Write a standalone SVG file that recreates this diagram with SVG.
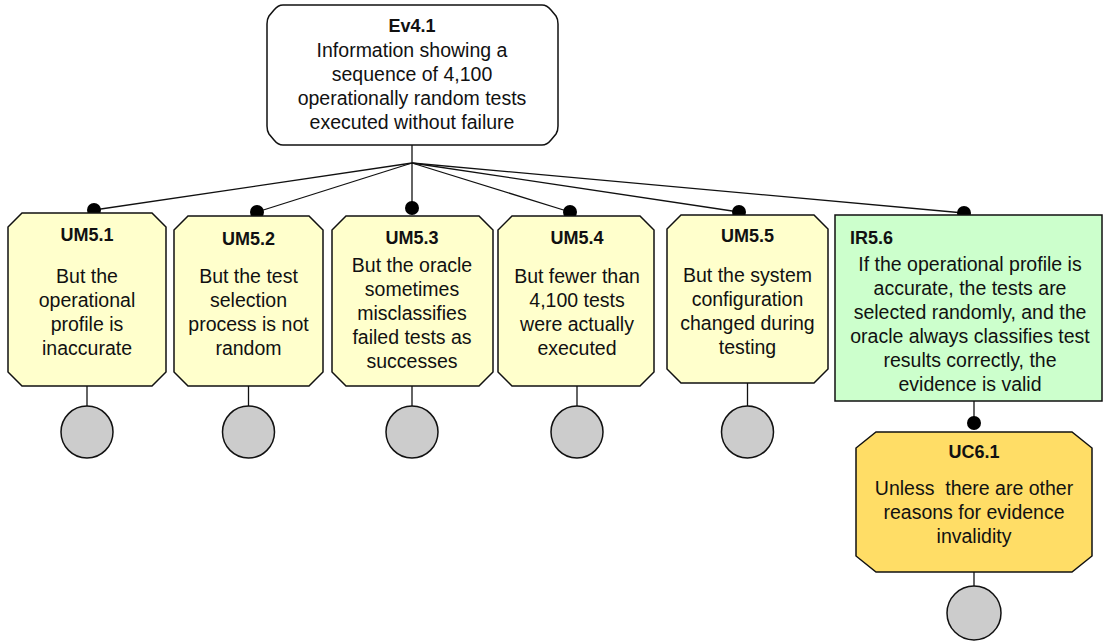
<svg xmlns="http://www.w3.org/2000/svg" width="1105" height="641" viewBox="0 0 1105 641">
<style>
text{font-family:"Liberation Sans",Arial,sans-serif;fill:#111;}
.t{font-size:18px;font-weight:bold;}
.b{font-size:19.5px;text-anchor:middle;white-space:pre;}
.c{text-anchor:middle;}
.um{fill:#ffffcc;stroke:#111;stroke-width:1.5;}
.ir{fill:#ccffcc;stroke:#111;stroke-width:1.5;}
.uc{fill:#ffdd66;stroke:#111;stroke-width:1.5;}
.ev{fill:#ffffff;stroke:#111;stroke-width:1.5;}
.ln{stroke:#111;stroke-width:1.3;fill:none;}
.dot{fill:#000;}
.circ{fill:#cccccc;stroke:#111;stroke-width:1.5;}
</style>
<rect width="1105" height="641" fill="#ffffff"/>
<g id="connectors">
<line class="ln" x1="412" y1="145" x2="412" y2="163"/>
<line class="ln" x1="412" y1="163" x2="94" y2="210"/>
<line class="ln" x1="412" y1="163" x2="257" y2="212"/>
<line class="ln" x1="412" y1="163" x2="412" y2="208"/>
<line class="ln" x1="412" y1="163" x2="570" y2="212"/>
<line class="ln" x1="412" y1="163" x2="739" y2="212"/>
<line class="ln" x1="412" y1="163" x2="964" y2="213"/>
<line class="ln" x1="87" y1="386" x2="87" y2="406"/>
<line class="ln" x1="248.5" y1="386" x2="248.5" y2="406"/>
<line class="ln" x1="412" y1="386" x2="412" y2="406"/>
<line class="ln" x1="577" y1="386" x2="577" y2="406"/>
<line class="ln" x1="747.5" y1="383" x2="747.5" y2="406"/>
<line class="ln" x1="974" y1="401" x2="974" y2="423"/>
<line class="ln" x1="974" y1="572" x2="974" y2="586"/>
<circle class="dot" cx="94" cy="210" r="7"/>
<circle class="dot" cx="257" cy="212" r="7"/>
<circle class="dot" cx="412" cy="208" r="7"/>
<circle class="dot" cx="570" cy="212" r="7"/>
<circle class="dot" cx="739" cy="212" r="7"/>
<circle class="dot" cx="964" cy="213" r="7"/>
<circle class="dot" cx="974" cy="423" r="7"/>
</g>
<g id="Ev4.1">
<path class="ev" d="M283,5 H542 Q547,5 551,10 L556,16 Q558,19 558,24 V126 Q558,131 556,134 L551,140 Q547,145 542,145 H283 Q278,145 274,140 L269,134 Q267,131 267,126 V24 Q267,19 269,16 L274,10 Q278,5 283,5 Z"/>
<text class="t c" x="412" y="32">Ev4.1</text>
<text class="b" x="412" y="57">Information showing a</text>
<text class="b" x="412" y="81">sequence of 4,100</text>
<text class="b" x="412" y="105">operationally random tests</text>
<text class="b" x="412" y="129">executed without failure</text>
</g>
<g id="UM5.1">
<path class="um" d="M22,213 H152 L166,227 V372 L152,386 H22 L8,372 V227 Z"/>
<text class="t c" x="87" y="241">UM5.1</text>
<text class="b" x="87" y="283">But the</text>
<text class="b" x="87" y="307">operational</text>
<text class="b" x="87" y="331">profile is</text>
<text class="b" x="87" y="355">inaccurate</text>
<circle class="circ" cx="87" cy="432" r="26"/>
</g>
<g id="UM5.2">
<path class="um" d="M188,216 H309 L323,230 V372 L309,386 H188 L174,372 V230 Z"/>
<text class="t c" x="248.5" y="245">UM5.2</text>
<text class="b" x="248.5" y="283">But the test</text>
<text class="b" x="248.5" y="307">selection</text>
<text class="b" x="248.5" y="331">process is not</text>
<text class="b" x="248.5" y="355">random</text>
<circle class="circ" cx="248.5" cy="432" r="26"/>
</g>
<g id="UM5.3">
<path class="um" d="M346,216 H479 L493,230 V372 L479,386 H346 L332,372 V230 Z"/>
<text class="t c" x="412" y="244">UM5.3</text>
<text class="b" x="412" y="272">But the oracle</text>
<text class="b" x="412" y="296">sometimes</text>
<text class="b" x="412" y="320">misclassifies</text>
<text class="b" x="412" y="344">failed tests as</text>
<text class="b" x="412" y="368">successes</text>
<circle class="circ" cx="412" cy="432" r="26"/>
</g>
<g id="UM5.4">
<path class="um" d="M512,216 H640 L654,230 V372 L640,386 H512 L498,372 V230 Z"/>
<text class="t c" x="577" y="244">UM5.4</text>
<text class="b" x="577" y="283">But fewer than</text>
<text class="b" x="577" y="307">4,100 tests</text>
<text class="b" x="577" y="331">were actually</text>
<text class="b" x="577" y="355">executed</text>
<circle class="circ" cx="577" cy="432" r="26"/>
</g>
<g id="UM5.5">
<path class="um" d="M681,215 H814 L828,229 V369 L814,383 H681 L667,369 V229 Z"/>
<text class="t c" x="747.5" y="242">UM5.5</text>
<text class="b" x="747.5" y="282">But the system</text>
<text class="b" x="747.5" y="306">configuration</text>
<text class="b" x="747.5" y="330">changed during</text>
<text class="b" x="747.5" y="354">testing</text>
<circle class="circ" cx="747.5" cy="432" r="26"/>
</g>
<g id="IR5.6">
<rect class="ir" x="835" y="215" width="267" height="186"/>
<text class="t" x="850" y="244">IR5.6</text>
<text class="b" x="970" y="271">If the operational profile is</text>
<text class="b" x="970" y="295">accurate, the tests are</text>
<text class="b" x="970" y="319">selected randomly, and the</text>
<text class="b" x="970" y="343">oracle always classifies test</text>
<text class="b" x="970" y="367">results correctly, the</text>
<text class="b" x="970" y="391">evidence is valid</text>
</g>
<g id="UC6.1">
<path class="uc" d="M876,432 H1072 L1092,448 V556 L1072,572 H876 L856,556 V448 Z"/>
<text class="t c" x="974" y="458">UC6.1</text>
<text class="b" x="974" y="495">Unless  there are other</text>
<text class="b" x="974" y="519">reasons for evidence</text>
<text class="b" x="974" y="543">invalidity</text>
<circle class="circ" cx="974" cy="613" r="27"/>
</g>
</svg>
